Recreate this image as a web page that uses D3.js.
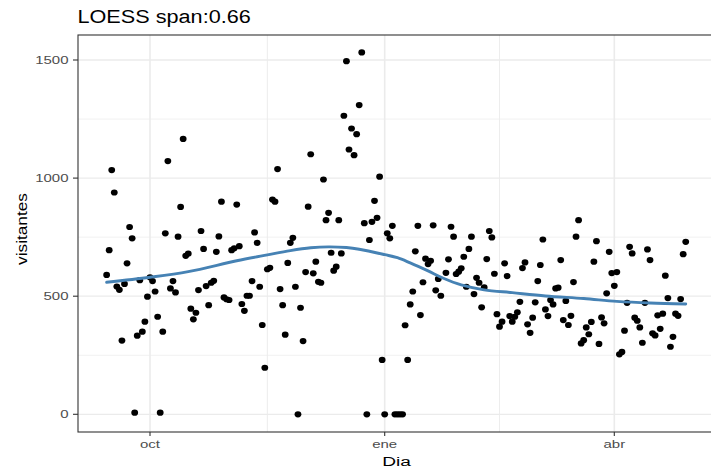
<!DOCTYPE html>
<html>
<head>
<meta charset="utf-8">
<script src="https://cdn.jsdelivr.net/npm/d3@7"></script>
<style>
  html, body { margin: 0; padding: 0; background: #fff; }
  svg { display: block; font-family: "Liberation Sans", Arial, sans-serif; }
</style>
</head>
<body>
<script>
/**
 * Daily visitors with a LOESS smoother (span 0.66).
 * Values, one point per day.
 */

const visitDates = [
  "2018-09-14","2018-09-15","2018-09-16","2018-09-17","2018-09-18","2018-09-19","2018-09-20","2018-09-21",
  "2018-09-22","2018-09-23","2018-09-24","2018-09-25","2018-09-26","2018-09-27","2018-09-28","2018-09-29",
  "2018-09-30","2018-10-01","2018-10-02","2018-10-03","2018-10-04","2018-10-05","2018-10-06","2018-10-07",
  "2018-10-08","2018-10-09","2018-10-10","2018-10-11","2018-10-12","2018-10-13","2018-10-14","2018-10-15",
  "2018-10-16","2018-10-17","2018-10-18","2018-10-19","2018-10-20","2018-10-21","2018-10-22","2018-10-23",
  "2018-10-24","2018-10-25","2018-10-26","2018-10-27","2018-10-28","2018-10-29","2018-10-30","2018-10-31",
  "2018-11-01","2018-11-02","2018-11-03","2018-11-04","2018-11-05","2018-11-06","2018-11-07","2018-11-08",
  "2018-11-09","2018-11-10","2018-11-11","2018-11-12","2018-11-13","2018-11-14","2018-11-15","2018-11-16",
  "2018-11-17","2018-11-18","2018-11-19","2018-11-20","2018-11-21","2018-11-22","2018-11-23","2018-11-24",
  "2018-11-25","2018-11-26","2018-11-27","2018-11-28","2018-11-29","2018-11-30","2018-12-01","2018-12-02",
  "2018-12-03","2018-12-04","2018-12-05","2018-12-06","2018-12-07","2018-12-08","2018-12-09","2018-12-10",
  "2018-12-11","2018-12-12","2018-12-13","2018-12-14","2018-12-15","2018-12-16","2018-12-17","2018-12-18",
  "2018-12-19","2018-12-20","2018-12-21","2018-12-22","2018-12-23","2018-12-24","2018-12-25","2018-12-26",
  "2018-12-27","2018-12-28","2018-12-29","2018-12-30","2018-12-31","2019-01-01","2019-01-02","2019-01-03",
  "2019-01-04","2019-01-05","2019-01-06","2019-01-07","2019-01-08","2019-01-09","2019-01-10","2019-01-11",
  "2019-01-12","2019-01-13","2019-01-14","2019-01-15","2019-01-16","2019-01-17","2019-01-18","2019-01-19",
  "2019-01-20","2019-01-21","2019-01-22","2019-01-23","2019-01-25","2019-01-26","2019-01-27","2019-01-28",
  "2019-01-29","2019-01-30","2019-01-31","2019-02-01","2019-02-02","2019-02-03","2019-02-04","2019-02-05",
  "2019-02-06","2019-02-07","2019-02-08","2019-02-09","2019-02-10","2019-02-11","2019-02-12","2019-02-13",
  "2019-02-14","2019-02-15","2019-02-16","2019-02-17","2019-02-18","2019-02-19","2019-02-20","2019-02-21",
  "2019-02-22","2019-02-23","2019-02-24","2019-02-25","2019-02-26","2019-02-27","2019-02-28","2019-03-01",
  "2019-03-02","2019-03-03","2019-03-04","2019-03-05","2019-03-06","2019-03-07","2019-03-08","2019-03-09",
  "2019-03-10","2019-03-11","2019-03-12","2019-03-13","2019-03-14","2019-03-15","2019-03-16","2019-03-17",
  "2019-03-18","2019-03-19","2019-03-20","2019-03-21","2019-03-22","2019-03-23","2019-03-24","2019-03-25",
  "2019-03-26","2019-03-27","2019-03-28","2019-03-29","2019-03-30","2019-03-31","2019-04-01","2019-04-02",
  "2019-04-03","2019-04-04","2019-04-05","2019-04-06","2019-04-07","2019-04-08","2019-04-09","2019-04-10",
  "2019-04-11","2019-04-12","2019-04-13","2019-04-14","2019-04-15","2019-04-16","2019-04-17","2019-04-18",
  "2019-04-19","2019-04-20","2019-04-21","2019-04-22","2019-04-23","2019-04-24","2019-04-25","2019-04-26",
  "2019-04-27","2019-04-28","2019-04-29"
];

const visitors = [
  590, 695, 1034, 939, 541, 527, 312, 552,
  639, 793, 745, 7, 333, 568, 350, 392,
  498, 580, 564, 520, 413, 7, 350, 766,
  1072, 533, 564, 516, 752, 878, 1166, 671,
  680, 447, 402, 430, 526, 776, 700, 543,
  462, 557, 565, 688, 753, 900, 495, 487,
  484, 695, 703, 888, 712, 467, 438, 502,
  502, 564, 770, 726, 540, 378, 197, 614,
  620, 909, 900, 1038, 530, 462, 337, 641,
  726, 747, 540, 0, 451, 310, 602, 879,
  1101, 597, 646, 561, 557, 994, 822, 853,
  684, 608, 625, 822, 681, 1264, 1495, 1121,
  1210, 1097, 1186, 1309, 1532, 809, 0, 738,
  815, 904, 832, 1006, 230, 0, 766, 745,
  798, 0, 0, 0, 0, 377, 230, 465,
  520, 690, 798, 420, 559, 659, 636, 650,
  800, 525, 573, 502, 599, 656, 794, 752,
  594, 604, 618, 667, 540, 700, 752, 509,
  578, 557, 453, 537, 657, 776, 749, 595,
  424, 371, 392, 639, 585, 416, 392, 413,
  432, 476, 619, 643, 381, 345, 409, 474,
  564, 632, 740, 444, 416, 484, 465, 533,
  536, 653, 399, 480, 378, 417, 560, 752,
  822, 300, 314, 368, 339, 391, 646, 733,
  298, 410, 385, 512, 688, 598, 544, 602,
  254, 264, 354, 472, 709, 681, 409, 396,
  368, 303, 472, 698, 653, 343, 334, 419,
  362, 426, 587, 492, 286, 328, 426, 417,
  488, 678, 730
];

// smoother, sampled off the blue curve
const loessDates = [
  "2018-09-14","2018-10-01","2018-10-16","2018-11-04","2018-11-16","2018-11-25","2018-12-03",
  "2018-12-10","2018-12-17","2018-12-22","2019-01-01","2019-01-06","2019-01-11","2019-01-18",
  "2019-01-24","2019-01-31","2019-02-09","2019-02-20","2019-03-05","2019-03-20","2019-04-02",
  "2019-04-15","2019-04-29"
];
const loessValues = [
  559, 580, 604, 650, 675, 693, 705,
  709, 706, 699, 676, 663, 641, 607,
  576, 548, 527, 515, 501, 490, 478,
  471, 467
];

const yTicks = [0, 500, 1000, 1500];
const yMinorTicks = [250, 750, 1250];
const xTickDates = ["2018-10-01", "2019-01-01", "2019-04-01"];
const xTickLabels = ["oct", "ene", "abr"];

const titleText = "LOESS span:0.66";
const xTitle = "Dia";
const yTitle = "visitantes";

/**
 * Drawing
 */

const width = 711, height = 471;
const panel = {left: 78, top: 35, right: 712, bottom: 432};
const stretch = 1.36;   // the picture's text is wider than it is tall

const parseDay = d3.utcParse("%Y-%m-%d");

let xScale = d3.scaleUtc()
    .domain([parseDay(xTickDates[0]), parseDay(xTickDates[2])])
    .range([150, 614.3]);

let yScale = d3.scaleLinear()
    .domain([0, 1500])
    .range([414.3, 60]);

let svg = d3.select("body").append("svg")
    .attr("width", width)
    .attr("height", height);

svg.append("defs").append("clipPath")
    .attr("id", "panel-clip")
  .append("rect")
    .attr("x", panel.left)
    .attr("y", panel.top)
    .attr("width", panel.right - panel.left)
    .attr("height", panel.bottom - panel.top);

// grid - minor first, then major
let grid = svg.append("g").attr("class", "grid");
let xMajor = xTickDates.map(parseDay);
let xMinor = [];
for (let i = 1; i < xMajor.length; i++) {
    xMinor.push(new Date((xMajor[i - 1].getTime() + xMajor[i].getTime()) / 2));
}

grid.selectAll(".hminor").data(yMinorTicks).enter().append("line")
    .attr("x1", panel.left).attr("x2", panel.right)
    .attr("y1", d => yScale(d)).attr("y2", d => yScale(d))
    .attr("stroke", "#ebebeb").attr("stroke-width", 0.7);
grid.selectAll(".vminor").data(xMinor).enter().append("line")
    .attr("y1", panel.top).attr("y2", panel.bottom)
    .attr("x1", d => xScale(d)).attr("x2", d => xScale(d))
    .attr("stroke", "#ebebeb").attr("stroke-width", 0.9);
grid.selectAll(".hmajor").data(yTicks).enter().append("line")
    .attr("x1", panel.left).attr("x2", panel.right)
    .attr("y1", d => yScale(d)).attr("y2", d => yScale(d))
    .attr("stroke", "#ebebeb").attr("stroke-width", 1.3);
grid.selectAll(".vmajor").data(xMajor).enter().append("line")
    .attr("y1", panel.top).attr("y2", panel.bottom)
    .attr("x1", d => xScale(d)).attr("x2", d => xScale(d))
    .attr("stroke", "#ebebeb").attr("stroke-width", 1.6);

// points
let points = visitDates.map((d, i) => ({x: parseDay(d), y: visitors[i]}));
svg.append("g")
    .attr("clip-path", "url(#panel-clip)")
  .selectAll(".dot")
    .data(points)
    .enter().append("ellipse")
    .attr("class", "dot")
    .attr("cx", d => xScale(d.x))
    .attr("cy", d => yScale(d.y))
    .attr("rx", 3.4)
    .attr("ry", 3.1)
    .attr("fill", "#000");

// smoother - catmull-rom keeps it round like the R curve
let smooth = loessDates.map((d, i) => ({x: parseDay(d), y: loessValues[i]}));
let line = d3.line()
    .x(d => xScale(d.x))
    .y(d => yScale(d.y))
    .curve(d3.curveCatmullRom.alpha(0.5));

svg.append("path")
    .datum(smooth)
    .attr("d", line)
    .attr("fill", "none")
    .attr("stroke", "#4682b4")
    .attr("stroke-width", 2.9)
    .attr("stroke-linecap", "round");

// panel border (right edge falls just off the picture)
svg.append("rect")
    .attr("x", panel.left)
    .attr("y", panel.top)
    .attr("width", panel.right - panel.left)
    .attr("height", panel.bottom - panel.top)
    .attr("fill", "none")
    .attr("stroke", "#333")
    .attr("stroke-width", 1.1);

// y axis - ticks and labels
let yAxis = svg.append("g").attr("class", "y axis");
yAxis.selectAll("line").data(yTicks).enter().append("line")
    .attr("x1", panel.left - 5).attr("x2", panel.left)
    .attr("y1", d => yScale(d)).attr("y2", d => yScale(d))
    .attr("stroke", "#333").attr("stroke-width", 1.1);
yAxis.selectAll("text").data(yTicks).enter().append("text")
    .attr("transform", d => "translate(68.5," + (yScale(d) + 3.9) + ") scale(" + stretch + ",1)")
    .attr("text-anchor", "end")
    .attr("font-size", 11)
    .attr("fill", "#4d4d4d")
    .text(d => String(d));

// x axis - ticks and labels
let xAxis = svg.append("g").attr("class", "x axis");
xAxis.selectAll("line").data(xMajor).enter().append("line")
    .attr("x1", d => xScale(d)).attr("x2", d => xScale(d))
    .attr("y1", panel.bottom).attr("y2", panel.bottom + 4)
    .attr("stroke", "#333").attr("stroke-width", 1.1);
xAxis.selectAll("text").data(xMajor).enter().append("text")
    .attr("transform", d => "translate(" + xScale(d) + ",448.3) scale(" + stretch + ",1)")
    .attr("text-anchor", "middle")
    .attr("font-size", 11)
    .attr("fill", "#4d4d4d")
    .text((d, i) => xTickLabels[i]);

// titles
svg.append("text")
    .attr("transform", "translate(77.5,23.3) scale(1.14,1)")
    .attr("font-size", 19)
    .attr("fill", "#000")
    .text(titleText);

svg.append("text")
    .attr("transform", "translate(396.5,466) scale(1.42,1)")
    .attr("text-anchor", "middle")
    .attr("font-size", 13.5)
    .attr("fill", "#000")
    .text(xTitle);

svg.append("text")
    .attr("transform", "translate(27.3,229) rotate(-90) scale(1.23,1)")
    .attr("text-anchor", "middle")
    .attr("font-size", 14)
    .attr("fill", "#000")
    .text(yTitle);
</script>
</body>
</html>
